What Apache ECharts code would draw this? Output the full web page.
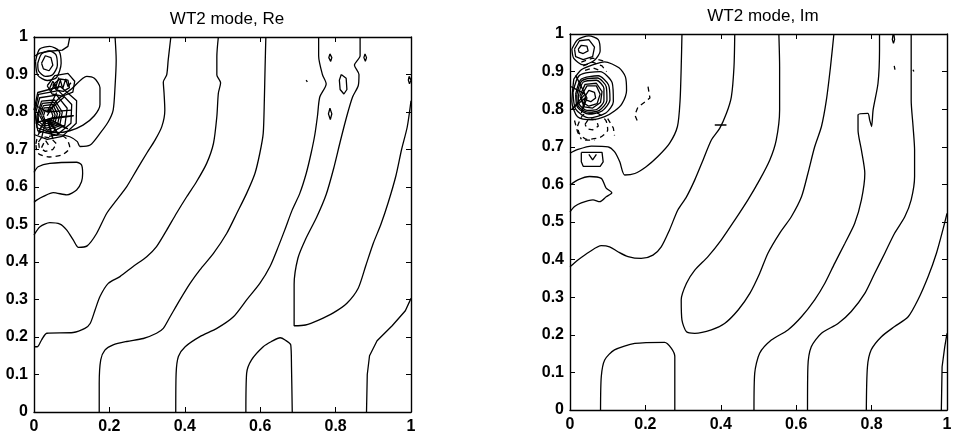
<!DOCTYPE html>
<html>
<head>
<meta charset="utf-8">
<script src="https://cdn.jsdelivr.net/npm/echarts@6/dist/echarts.min.js"></script>
<style>
html,body{margin:0;padding:0;background:#fff;}
#chart{width:956px;height:438px;}
</style>
</head>
<body>
<div id="chart"></div>
<script>
// Panel titles and axis ticks
const titles = ['WT2 mode, Re', 'WT2 mode, Im'];
const xTicks = [0, 0.2, 0.4, 0.6, 0.8, 1];
const yTicks = [0, 0.1, 0.2, 0.3, 0.4, 0.5, 0.6, 0.7, 0.8, 0.9, 1];

// ---- Re panel contour lines ([x, y] along each level curve) ----
const reEdgeTop = [[0.095,1],[0.09,0.975],[0.075,0.965],[0.04,0.962],[0.015,0.957],[0,0.948]];
const reLineA = [[0,0.174],[0.009,0.174],[0.02,0.192],[0.034,0.21],[0.104,0.212],[0.135,0.223],[0.149,0.236],[0.162,0.272],[0.175,0.308],[0.197,0.343],[0.228,0.361],[0.263,0.388],[0.299,0.414],[0.325,0.441],[0.352,0.485],[0.378,0.53],[0.405,0.574],[0.431,0.614],[0.458,0.663],[0.476,0.716],[0.485,0.788],[0.489,0.85],[0.495,0.878],[0.485,0.899],[0.485,0.948],[0.489,1]];
const reLineB = [[0.215,1],[0.218,0.939],[0.215,0.868],[0.21,0.805],[0.197,0.774],[0.175,0.743],[0.149,0.712],[0.122,0.708],[0.115,0.721],[0.095,0.734],[0.069,0.739],[0.04,0.735]];
const reLineC = [[0,0.472],[0.016,0.494],[0.042,0.505],[0.069,0.501],[0.087,0.485],[0.104,0.459],[0.118,0.439],[0.141,0.443],[0.166,0.476],[0.193,0.53],[0.219,0.565],[0.246,0.601],[0.272,0.645],[0.299,0.69],[0.321,0.725],[0.339,0.761],[0.347,0.805],[0.345,0.85],[0.343,0.88],[0.352,0.899],[0.356,0.939],[0.363,1]];
const reLineD = [[0.173,0],[0.173,0.076],[0.177,0.139],[0.188,0.165],[0.21,0.179],[0.246,0.188],[0.29,0.196],[0.325,0.21],[0.343,0.223],[0.361,0.254],[0.387,0.299],[0.414,0.343],[0.44,0.379],[0.476,0.423],[0.511,0.476],[0.538,0.53],[0.564,0.583],[0.586,0.636],[0.599,0.69],[0.608,0.743],[0.611,0.832],[0.613,0.921],[0.615,1]];
const reLineE = [[0.376,0],[0.377,0.103],[0.383,0.148],[0.401,0.174],[0.44,0.201],[0.485,0.223],[0.529,0.254],[0.564,0.299],[0.599,0.343],[0.626,0.388],[0.648,0.441],[0.665,0.485],[0.685,0.539],[0.705,0.583],[0.722,0.636],[0.735,0.69],[0.745,0.74],[0.752,0.79],[0.758,0.84],[0.775,0.875],[0.765,0.9],[0.755,0.95],[0.755,1]];
const reLineF = [[0.865,1],[0.865,0.95],[0.85,0.925],[0.862,0.9],[0.86,0.87],[0.845,0.84],[0.83,0.79],[0.812,0.72],[0.795,0.65],[0.775,0.58],[0.75,0.52],[0.72,0.46],[0.7,0.41],[0.69,0.34],[0.69,0.23],[0.72,0.232],[0.755,0.245],[0.795,0.265],[0.83,0.29],[0.86,0.33],[0.88,0.39],[0.9,0.45],[0.92,0.5],[0.94,0.56],[0.96,0.63],[0.975,0.7],[0.99,0.76],[1,0.83]];
const reLineG = [[0.882,0],[0.884,0.1],[0.89,0.15],[0.91,0.19],[0.95,0.23],[0.985,0.27],[1,0.303]];
const reArch = [[0.562,0],[0.564,0.103],[0.577,0.139],[0.608,0.174],[0.63,0.188],[0.653,0.198],[0.666,0.192],[0.681,0.179],[0.683,0.121],[0.685,0]];
const reEdgeLoop = [[0,0.639],[0.011,0.654],[0.042,0.663],[0.113,0.666],[0.126,0.659],[0.129,0.636],[0.126,0.614],[0.113,0.592],[0.087,0.579],[0.051,0.585],[0.025,0.575],[0.007,0.565],[0,0.559]];
const reLobeRim = [[0.035,0.79],[0.06,0.83],[0.1,0.862],[0.14,0.895],[0.16,0.89],[0.175,0.865],[0.175,0.82],[0.16,0.79],[0.13,0.765],[0.095,0.75],[0.06,0.745],[0.035,0.75]];
const reTop1 = [[0.02,0.93],[0.03,0.95],[0.045,0.945],[0.05,0.925],[0.04,0.91],[0.025,0.915],[0.02,0.93]];
const reTop2 = [[0.01,0.93],[0.02,0.955],[0.04,0.963],[0.058,0.953],[0.062,0.925],[0.05,0.9],[0.03,0.895],[0.012,0.91],[0.01,0.93]];
const reTop3 = [[0.004,0.935],[0.015,0.968],[0.042,0.975],[0.066,0.963],[0.072,0.93],[0.06,0.892],[0.035,0.884],[0.01,0.898],[0.004,0.935]];
const reMid1 = [[0.035,0.87],[0.055,0.897],[0.09,0.903],[0.108,0.882],[0.103,0.853],[0.075,0.842],[0.048,0.848],[0.035,0.87]];
const reMid2 = [[0.05,0.872],[0.068,0.888],[0.09,0.885],[0.094,0.865],[0.078,0.855],[0.06,0.858],[0.05,0.872]];
const reMidSpike = [[0.045,0.855],[0.055,0.875],[0.062,0.86],[0.07,0.885],[0.076,0.862],[0.084,0.888],[0.09,0.868],[0.098,0.878]];
const reMidSpike2 = [[0.04,0.86],[0.05,0.882],[0.058,0.868],[0.066,0.892]];
const reCore1 = [[0.025,0.79],[0.03,0.805],[0.045,0.805],[0.05,0.79],[0.045,0.775],[0.03,0.775],[0.025,0.79]];
const reCore1b = [[0.02,0.79],[0.027,0.811],[0.048,0.812],[0.056,0.792],[0.05,0.771],[0.03,0.769],[0.02,0.79]];
const reCore2 = [[0.015,0.79],[0.025,0.817],[0.05,0.82],[0.062,0.795],[0.055,0.768],[0.03,0.763],[0.015,0.79]];
const reCore2b = [[0.011,0.79],[0.022,0.823],[0.053,0.826],[0.069,0.797],[0.062,0.765],[0.033,0.757],[0.012,0.775],[0.011,0.79]];
const reCore3 = [[0.008,0.79],[0.02,0.829],[0.055,0.832],[0.075,0.8],[0.068,0.763],[0.035,0.752],[0.01,0.768],[0.008,0.79]];
const reCore4 = [[0.004,0.795],[0.015,0.838],[0.06,0.845],[0.088,0.81],[0.082,0.765],[0.045,0.745],[0.008,0.758],[0.004,0.795]];
const reCore5 = [[0.002,0.8],[0.012,0.847],[0.065,0.857],[0.1,0.82],[0.098,0.77],[0.06,0.738],[0.01,0.75],[0.002,0.8]];
const reCore6 = [[0,0.805],[0.01,0.852],[0.07,0.868],[0.113,0.83],[0.112,0.77],[0.075,0.735],[0.035,0.727],[0,0.74]];
const reSpokes = [[0.02,0.73],[0.035,0.78],[0.05,0.728],[0.035,0.78],[0.065,0.74],[0.035,0.78],[0.012,0.745],[0.035,0.78],[0.09,0.755],[0.035,0.78],[0.105,0.79],[0.035,0.78],[0.004,0.77]];
const reSpokes2 = [[0.035,0.8],[0.08,0.84],[0.035,0.8],[0.1,0.805],[0.035,0.8],[0.06,0.852],[0.035,0.8],[0.0,0.82]];
const reNeg1 = [[0.012,0.72],[0.022,0.735],[0.045,0.73],[0.06,0.715],[0.05,0.7],[0.03,0.695],[0.014,0.705],[0.012,0.72]];
const reNeg2 = [[0.005,0.715],[0.015,0.745],[0.05,0.748],[0.085,0.73],[0.095,0.705],[0.075,0.686],[0.04,0.68],[0.01,0.69],[0.005,0.715]];
const reNeg3 = [[0.02,0.705],[0.03,0.725],[0.04,0.71]];
const reDot1 = [[0.785,0.955],[0.79,0.945],[0.787,0.935],[0.782,0.945],[0.785,0.955]];
const reDot2 = [[0.878,0.955],[0.882,0.945],[0.879,0.935],[0.875,0.945],[0.878,0.955]];
const reDot3 = [[0.815,0.9],[0.828,0.89],[0.83,0.86],[0.822,0.848],[0.812,0.86],[0.81,0.885],[0.815,0.9]];
const reDot4 = [[0.785,0.81],[0.79,0.795],[0.786,0.78],[0.781,0.795],[0.785,0.81]];
const reDot5 = [[0.995,0.895],[1,0.885],[0.996,0.875],[0.993,0.885],[0.995,0.895]];
const reDot6 = [[0.722,0.885],[0.725,0.88]];

// ---- Im panel contour lines ----
const imArch = [[0.081,0],[0.083,0.089],[0.092,0.133],[0.118,0.16],[0.172,0.177],[0.251,0.18],[0.269,0.164],[0.278,0.142],[0.278,0]];
const imLine1 = [[0,0.381],[0.021,0.399],[0.052,0.421],[0.083,0.437],[0.105,0.434],[0.127,0.421],[0.154,0.408],[0.189,0.403],[0.22,0.412],[0.242,0.434],[0.264,0.479],[0.286,0.532],[0.309,0.567],[0.331,0.612],[0.353,0.665],[0.375,0.718],[0.397,0.749],[0.415,0.789],[0.428,0.833],[0.435,0.913],[0.437,1]];
const imLine2 = [[0,0.683],[0.021,0.693],[0.057,0.702],[0.101,0.7],[0.118,0.687],[0.132,0.66],[0.145,0.625],[0.172,0.629],[0.202,0.647],[0.233,0.674],[0.264,0.709],[0.285,0.754],[0.292,0.824],[0.295,0.913],[0.297,1]];
const imEdgeLoop = [[0,0.598],[0.021,0.612],[0.052,0.621],[0.083,0.616],[0.096,0.59],[0.111,0.578],[0.096,0.567],[0.079,0.554],[0.061,0.559],[0.03,0.551],[0.012,0.541],[0,0.527]];
const imBand = [[0.554,1],[0.556,0.913],[0.556,0.798],[0.547,0.718],[0.53,0.665],[0.503,0.612],[0.472,0.559],[0.437,0.505],[0.401,0.452],[0.366,0.408],[0.331,0.372],[0.309,0.337],[0.295,0.293],[0.297,0.239],[0.309,0.208],[0.331,0.204],[0.375,0.213],[0.41,0.23],[0.446,0.266],[0.477,0.31],[0.503,0.363],[0.525,0.417],[0.556,0.47],[0.587,0.514],[0.614,0.567],[0.631,0.629],[0.649,0.7],[0.667,0.754],[0.68,0.824],[0.691,0.913],[0.7,1]];
const imLine3 = [[0.488,0],[0.49,0.098],[0.503,0.151],[0.534,0.186],[0.578,0.213],[0.614,0.248],[0.649,0.293],[0.676,0.337],[0.702,0.39],[0.729,0.443],[0.755,0.496],[0.773,0.559],[0.782,0.629],[0.773,0.691],[0.764,0.745],[0.764,0.785],[0.79,0.789],[0.795,0.771],[0.8,0.754],[0.804,0.798],[0.817,0.869],[0.821,0.957],[0.821,1]];
const imLine4 = [[0.63,0],[0.631,0.115],[0.64,0.168],[0.667,0.204],[0.711,0.23],[0.746,0.262],[0.782,0.31],[0.808,0.363],[0.835,0.417],[0.861,0.47],[0.888,0.514],[0.905,0.559],[0.914,0.621],[0.914,0.691],[0.91,0.754],[0.905,0.824],[0.905,0.913],[0.905,1]];
const imLine5 = [[0.786,0],[0.789,0.115],[0.799,0.16],[0.826,0.195],[0.861,0.222],[0.897,0.248],[0.923,0.293],[0.95,0.355],[0.972,0.417],[0.989,0.479],[1,0.523]];
const imLine6 = [[0.985,0],[0.987,0.115],[0.994,0.168],[1,0.204]];
const imTop1 = [[0.022,0.96],[0.03,0.97],[0.045,0.968],[0.048,0.955],[0.035,0.948],[0.024,0.952],[0.022,0.96]];
const imTop2 = [[0.012,0.96],[0.025,0.982],[0.05,0.985],[0.065,0.965],[0.06,0.94],[0.035,0.932],[0.015,0.94],[0.012,0.96]];
const imTop3 = [[0.005,0.96],[0.02,0.985],[0.05,0.995],[0.075,0.985],[0.08,0.955],[0.065,0.93],[0.035,0.918],[0.01,0.935],[0.005,0.96]];
const imBig1 = [[0.04,0.835],[0.05,0.85],[0.065,0.845],[0.068,0.83],[0.055,0.82],[0.042,0.825],[0.04,0.835]];
const imBig2 = [[0.03,0.835],[0.045,0.862],[0.07,0.862],[0.08,0.84],[0.072,0.815],[0.05,0.808],[0.033,0.818],[0.03,0.835]];
const imBig2b = [[0.026,0.835],[0.04,0.866],[0.07,0.869],[0.085,0.847],[0.081,0.818],[0.06,0.803],[0.038,0.806],[0.026,0.835]];
const imBig3 = [[0.022,0.835],[0.035,0.872],[0.07,0.877],[0.09,0.855],[0.09,0.822],[0.072,0.8],[0.045,0.797],[0.025,0.812],[0.022,0.835]];
const imBig3b = [[0.018,0.838],[0.032,0.876],[0.073,0.883],[0.096,0.86],[0.098,0.823],[0.078,0.797],[0.047,0.792],[0.022,0.808],[0.018,0.838]];
const imBig4 = [[0.015,0.84],[0.03,0.88],[0.075,0.889],[0.102,0.865],[0.106,0.825],[0.085,0.795],[0.05,0.787],[0.02,0.805],[0.015,0.84]];
const imBig5 = [[0.008,0.845],[0.025,0.89],[0.08,0.9],[0.112,0.87],[0.115,0.82],[0.095,0.79],[0.05,0.777],[0.015,0.8],[0.008,0.845]];
const imBigRim = [[0.01,0.88],[0.03,0.905],[0.06,0.918],[0.092,0.926],[0.13,0.91],[0.147,0.886],[0.15,0.85],[0.138,0.815],[0.118,0.795],[0.092,0.78],[0.06,0.772],[0.02,0.78],[0.005,0.82],[0.01,0.88]];
const imBigSpokes = [[0.003,0.86],[0.04,0.84],[0.005,0.8],[0.04,0.83],[0.03,0.79],[0.045,0.83],[0.015,0.89]];
const imNegArc1 = [[0.035,0.915],[0.06,0.925],[0.085,0.915],[0.097,0.9]];
const imNegArc2 = [[0.04,0.903],[0.06,0.91],[0.08,0.903]];
const imNegArc3 = [[0.03,0.925],[0.06,0.936],[0.09,0.928]];
const imNeg1 = [[0.04,0.76],[0.05,0.775],[0.07,0.772],[0.075,0.755],[0.06,0.745],[0.045,0.748],[0.04,0.76]];
const imNeg2 = [[0.02,0.755],[0.035,0.785],[0.07,0.79],[0.095,0.77],[0.1,0.745],[0.08,0.725],[0.045,0.72],[0.025,0.735],[0.02,0.755]];
const imNeg3 = [[0.1,0.775],[0.115,0.75],[0.118,0.73]];
const imNeg4 = [[0.012,0.77],[0.02,0.74],[0.03,0.72]];
const imNegCrescent = [[0.207,0.86],[0.212,0.83],[0.2,0.82],[0.18,0.805],[0.172,0.785],[0.18,0.765]];
const imBox = [[0.03,0.685],[0.085,0.685],[0.088,0.66],[0.08,0.648],[0.035,0.648],[0.03,0.66],[0.03,0.685]];
const imBoxV = [[0.05,0.68],[0.06,0.665],[0.07,0.68]];
const imTicks = [[0.04,0.718],[0.065,0.718]];
const imStub = [[0.384,0.758],[0.415,0.758]];
const imDot1 = [[0.857,1],[0.855,0.985],[0.858,0.975],[0.861,0.985],[0.859,1]];
const imDot2 = [[0.86,0.915],[0.862,0.905],[0.859,0.9],[0.857,0.908],[0.86,0.915]];
const imDot3 = [[0.91,0.905],[0.912,0.9]];

const rePanel = {
  solid: [reEdgeTop, reLineA, reLineB, reLineC, reLineD, reLineE, reLineF, reLineG, reArch, reEdgeLoop, reLobeRim,
          reTop1, reTop2, reTop3, reMid1, reMid2, reMidSpike, reMidSpike2, reCore1, reCore1b, reCore2, reCore2b, reCore3,
          reCore4, reCore5, reCore6, reSpokes, reSpokes2, reDot1, reDot2, reDot3, reDot4, reDot5, reDot6],
  dashed: [reNeg1, reNeg2, reNeg3]
};
const imPanel = {
  solid: [imArch, imLine1, imLine2, imEdgeLoop, imBand, imLine3, imLine4, imLine5, imLine6, imTop1, imTop2, imTop3,
          imBig1, imBig2, imBig2b, imBig3, imBig3b, imBig4, imBig5, imBigRim, imBigSpokes, imBox, imBoxV, imStub,
          imDot1, imDot2, imDot3],
  dashed: [imNegArc1, imNegArc2, imNegArc3, imNeg1, imNeg2, imNeg3, imNeg4, imNegCrescent, imTicks]
};

const FONT = 'Liberation Sans, Arial, Helvetica, sans-serif';
const grids = [
  { left: 34, top: 37, width: 377, height: 375 },
  { left: 570, top: 34, width: 377, height: 376 }
];

function fmt(v) { return v === 0 ? '0' : v === 1 ? '1' : v.toFixed(1); }

const xAxes = [], yAxes = [];
grids.forEach((g, i) => {
  const common = { type: 'value', min: 0, max: 1, gridIndex: i, splitLine: { show: false },
    axisLine: { show: true, onZero: false, lineStyle: { color: '#000', width: 1.4 } },
    axisTick: { show: true, inside: true, length: 5, lineStyle: { color: '#000', width: 1 } } };
  xAxes.push(Object.assign({}, common, { position: 'bottom', interval: 0.2,
    axisLabel: { show: true, margin: 7, color: '#000', fontFamily: FONT, fontSize: 16, fontWeight: 'bold', formatter: fmt } }));
  xAxes.push(Object.assign({}, common, { position: 'top', interval: 0.2, axisLabel: { show: false } }));
  yAxes.push(Object.assign({}, common, { position: 'left', interval: 0.1,
    axisLabel: { show: true, margin: 6, color: '#000', fontFamily: FONT, fontSize: 16, fontWeight: 'bold', formatter: fmt } }));
  yAxes.push(Object.assign({}, common, { position: 'right', interval: 0.1, axisLabel: { show: false } }));
});

function mk(pts, panel, dashed) {
  return {
    type: 'line', xAxisIndex: panel * 2, yAxisIndex: panel * 2, data: pts,
    symbol: 'none', showSymbol: false, silent: true, animation: false, clip: true,
    smooth: pts.length > 8 ? 0.25 : false,
    lineStyle: { color: '#000', width: 1.3, type: dashed ? [5, 4] : 'solid' }
  };
}

const series = [];
[rePanel, imPanel].forEach((p, i) => {
  p.solid.forEach(pts => series.push(mk(pts, i, false)));
  p.dashed.forEach(pts => series.push(mk(pts, i, true)));
});

const chart = echarts.init(document.getElementById('chart'), null, { renderer: 'canvas' });
chart.setOption({
  backgroundColor: '#fff',
  animation: false,
  title: [
    { text: titles[0], left: 222, top: 6, textAlign: 'center',
      textStyle: { fontFamily: FONT, fontSize: 17, fontWeight: 'normal', color: '#000' } },
    { text: titles[1], left: 758, top: 3, textAlign: 'center',
      textStyle: { fontFamily: FONT, fontSize: 17, fontWeight: 'normal', color: '#000' } }
  ],
  grid: grids,
  xAxis: xAxes,
  yAxis: yAxes,
  series: series
});
</script>
</body>
</html>
